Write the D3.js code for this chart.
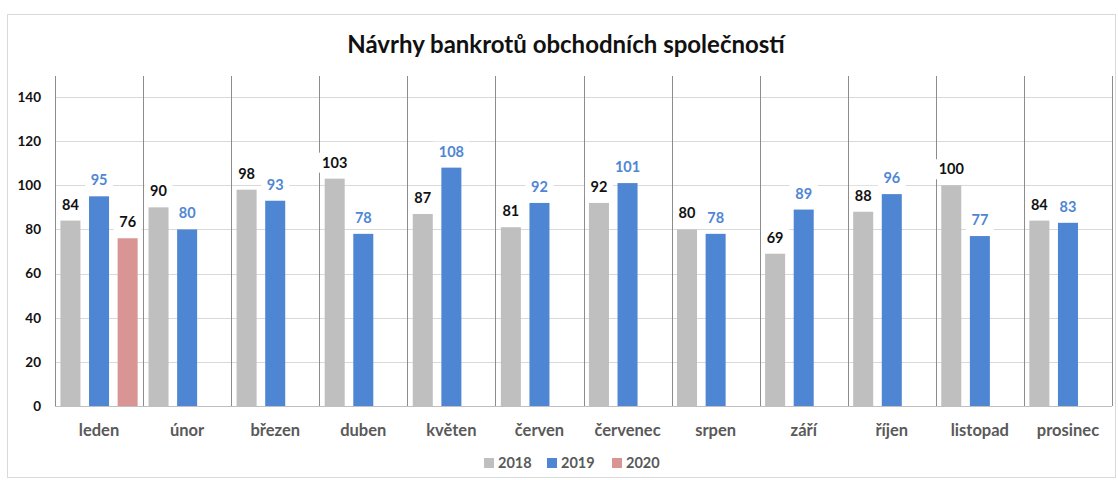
<!DOCTYPE html>
<html>
<head>
<meta charset="utf-8">
<script src="https://cdn.jsdelivr.net/npm/d3@7.9.0/dist/d3.min.js"></script>
<style>
  body { margin: 0; background: #fff; }
  svg { display: block; font-family: Lato, "Open Sans", sans-serif; }
</style>
</head>
<body>
<div id="chart"></div>
<script>
const months = ["leden", "únor", "březen", "duben", "květen", "červen", "červenec", "srpen", "září", "říjen", "listopad", "prosinec"];
const years = ["2018", "2019", "2020"];
const values2018 = [84, 90, 98, 103, 87, 81, 92, 80, 69, 88, 100, 84];
const values2019 = [95, 80, 93, 78, 108, 92, 101, 78, 89, 96, 77, 83];
const values2020 = [76];
const yTicks = [0, 20, 40, 60, 80, 100, 120, 140];

const width = 1118, height = 480;
const margin = { top: 76, right: 6, bottom: 74, left: 55 };
const colors = { "2018": "#bfbfbf", "2019": "#4f86d3", "2020": "#d99594" };
const labelColors = { "2018": "#111", "2019": "#4f86d3", "2020": "#111" };

const series = { "2018": values2018, "2019": values2019, "2020": values2020 };
const rows = [];
years.forEach(y => series[y].forEach((v, i) => rows.push({ year: y, month: months[i], value: v })));

const svg = d3.select("#chart").append("svg")
    .attr("width", width)
    .attr("height", height);

// outer frame
svg.append("rect")
    .attr("x", 7.5).attr("y", 14.5)
    .attr("width", 1108).attr("height", 463)
    .attr("fill", "#fff")
    .attr("stroke", "#d9d9d9");

svg.append("text")
    .attr("x", 566)
    .attr("y", 53)
    .attr("text-anchor", "middle")
    .attr("font-size", 24)
    .attr("font-weight", "bold")
    .attr("fill", "#111")
    .text("Návrhy bankrotů obchodních společností");

const x0 = d3.scaleBand().domain(months).range([margin.left, width - margin.right]);
const x1 = d3.scaleBand().domain(years).range([0, x0.bandwidth()]).paddingInner(0.3).paddingOuter(0.19);
const y = d3.scaleLinear().domain([0, 140]).range([406, 97]);

// gridlines
svg.append("g").selectAll("line").data(yTicks.slice(1)).join("line")
    .attr("x1", margin.left).attr("x2", width - margin.right)
    .attr("y1", d => Math.round(y(d)) + 0.5).attr("y2", d => Math.round(y(d)) + 0.5)
    .attr("stroke", "#d9d9d9");

// category separators
const seps = months.map(m => x0(m)).concat([width - margin.right]);
svg.append("g").selectAll("line").data(seps).join("line")
    .attr("x1", d => Math.round(d) + 0.5).attr("x2", d => Math.round(d) + 0.5)
    .attr("y1", margin.top).attr("y2", y(0))
    .attr("stroke", "#8c8c8c");

// y axis labels
const yAxis = svg.append("g")
    .attr("transform", `translate(${margin.left},0)`)
    .call(d3.axisLeft(y).tickValues(yTicks).tickSize(0).tickPadding(14));
yAxis.select(".domain").remove();
yAxis.selectAll("text")
    .attr("font-size", 13.5)
    .attr("font-weight", "bold")
    .attr("fill", "#111")
    .attr("font-family", "Lato, sans-serif");

// bars
svg.append("g").selectAll("rect").data(rows).join("rect")
    .attr("x", d => x0(d.month) + x1(d.year))
    .attr("y", d => y(d.value))
    .attr("width", x1.bandwidth())
    .attr("height", d => y(0) - y(d.value))
    .attr("fill", d => colors[d.year]);

// zero line
svg.append("line")
    .attr("x1", margin.left).attr("x2", width - margin.right)
    .attr("y1", Math.round(y(0)) + 0.5).attr("y2", Math.round(y(0)) + 0.5)
    .attr("stroke", "#bfbfbf");

// data labels with white boxes
const lab = svg.append("g").selectAll("g").data(rows).join("g")
    .attr("transform", d => `translate(${x0(d.month) + x1(d.year) + x1.bandwidth() / 2},${y(d.value) - 11})`);
lab.append("rect")
    .attr("x", d => -(String(d.value).length * 4.5 + 5))
    .attr("y", -15)
    .attr("width", d => String(d.value).length * 9 + 10)
    .attr("height", 20)
    .attr("fill", "#fff");
lab.append("text")
    .attr("text-anchor", "middle")
    .attr("font-size", 14.5)
    .attr("font-weight", "bold")
    .attr("fill", d => labelColors[d.year])
    .text(d => d.value);

// month labels
svg.append("g").selectAll("text").data(months).join("text")
    .attr("x", d => x0(d) + x0.bandwidth() / 2)
    .attr("y", 436)
    .attr("text-anchor", "middle")
    .attr("font-size", 16.5)
    .attr("font-weight", "bold")
    .attr("fill", "#595959")
    .text(d => d);

// legend
const legendX = [484, 547, 612];
const leg = svg.append("g").selectAll("g").data(years).join("g")
    .attr("transform", (d, i) => `translate(${legendX[i]},463)`);
leg.append("rect")
    .attr("x", 0).attr("y", -5)
    .attr("width", 10).attr("height", 10)
    .attr("fill", d => colors[d]);
leg.append("text")
    .attr("x", 14).attr("y", 5)
    .attr("font-size", 14.5)
    .attr("font-weight", "bold")
    .attr("fill", "#595959")
    .text(d => d);
</script>
</body>
</html>
